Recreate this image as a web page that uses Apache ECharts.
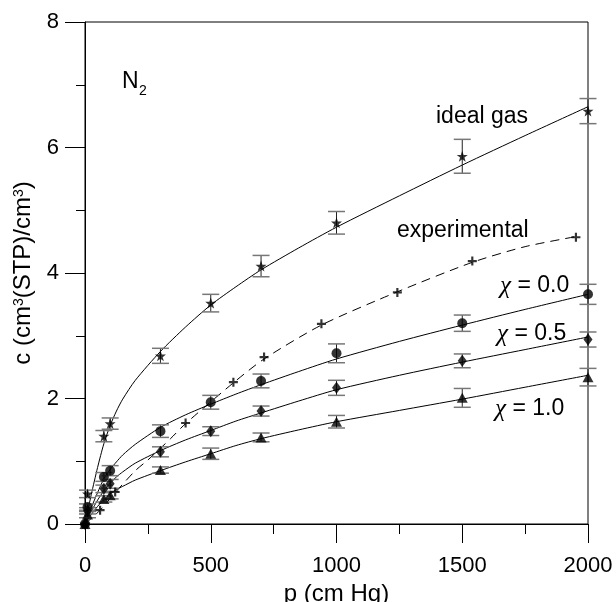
<!DOCTYPE html>
<html>
<head>
<meta charset="utf-8">
<script src="https://cdn.jsdelivr.net/npm/echarts@6/dist/echarts.min.js"></script>
<style>
html,body{margin:0;padding:0;background:#fff;}
#chart{width:616px;height:602px;}
</style>
</head>
<body>
<div id="chart"></div>
<script>
// ---- data ----
const xTicks = [0, 500, 1000, 1500, 2000];
const yTicks = [0, 2, 4, 6, 8];

// measured points (p in cm Hg), with error half-widths
const pMeas = [0, 10, 75, 100, 300, 500, 700, 1000, 1500, 2000];
const cIdeal = [0, 0.48, 1.40, 1.60, 2.68, 3.52, 4.11, 4.80, 5.86, 6.58];
const eIdeal = [0, 0.06, 0.09, 0.09, 0.12, 0.14, 0.17, 0.18, 0.27, 0.20];
const cChi00 = [0, 0.27, 0.75, 0.85, 1.48, 1.94, 2.28, 2.72, 3.20, 3.66];
const eChi00 = [0, 0.05, 0.07, 0.08, 0.10, 0.11, 0.11, 0.15, 0.13, 0.16];
const cChi05 = [0, 0.21, 0.56, 0.64, 1.15, 1.48, 1.80, 2.17, 2.60, 2.94];
const eChi05 = [0, 0.05, 0.06, 0.07, 0.08, 0.07, 0.08, 0.12, 0.11, 0.12];
const cChi10 = [0, 0.15, 0.40, 0.46, 0.86, 1.12, 1.38, 1.63, 2.01, 2.34];
const eChi10 = [0, 0.05, 0.05, 0.06, 0.05, 0.09, 0.07, 0.10, 0.15, 0.14];

// experimental points
const pExp = [0, 60, 120, 400, 590, 712, 940, 1242, 1540, 1952];
const cExp = [0, 0.22, 0.51, 1.61, 2.26, 2.66, 3.19, 3.69, 4.19, 4.57];

// fitted curves
const pFit = [0, 25, 50, 75, 100, 125, 150, 200, 300, 400, 500, 600, 700, 850, 1000, 1250, 1500, 1750, 2000];
const fIdeal = [0, 0.47, 0.90, 1.28, 1.57, 1.80, 1.99, 2.29, 2.75, 3.14, 3.49, 3.78, 4.05, 4.40, 4.73, 5.23, 5.72, 6.19, 6.65];
const fChi00 = [0, 0.26, 0.50, 0.72, 0.87, 0.99, 1.10, 1.27, 1.54, 1.74, 1.91, 2.07, 2.22, 2.43, 2.63, 2.91, 3.17, 3.42, 3.66];
const fChi05 = [0, 0.20, 0.38, 0.53, 0.65, 0.75, 0.83, 0.97, 1.17, 1.34, 1.49, 1.64, 1.77, 1.96, 2.14, 2.37, 2.58, 2.78, 2.98];
const fChi10 = [0, 0.15, 0.28, 0.39, 0.48, 0.55, 0.60, 0.70, 0.85, 0.99, 1.12, 1.25, 1.36, 1.50, 1.63, 1.81, 1.99, 2.18, 2.37];
const pExpLine = [0, 60, 120, 200, 250, 340, 400, 590, 712, 940, 1242, 1540, 1750, 1952];
const fExp = [0, 0.22, 0.50, 0.85, 1.02, 1.36, 1.60, 2.25, 2.63, 3.17, 3.70, 4.17, 4.42, 4.58];

// ---- chart ----
const FONT = '"Liberation Sans", Arial, sans-serif';
const STAR = 'path://M0,-10L2.35,-3.24L9.51,-3.09L3.8,1.24L5.88,8.09L0,4L-5.88,8.09L-3.8,1.24L-9.51,-3.09L-2.35,-3.24Z';
const PLUS = 'path://M-1.2,-5H1.2V-1.2H5V1.2H1.2V5H-1.2V1.2H-5V-1.2H-1.2Z';

function pairs(xs, ys) { return xs.map((x, i) => [x, ys[i]]); }

function curve(xs, ys, dashed) {
  return {
    type: 'line', data: pairs(xs, ys), smooth: 0.25,
    showSymbol: false, symbol: 'none', silent: true, z: 1,
    lineStyle: { color: '#000', width: 1, type: dashed ? [9, 6] : 'solid' }
  };
}
function points(xs, ys, symbol, size) {
  return {
    type: 'scatter', data: pairs(xs, ys), symbol: symbol, symbolSize: size,
    itemStyle: { color: '#000' }, silent: true, z: 4
  };
}
function errBars(xs, ys, es) {
  const d = xs.map((x, i) => [x, ys[i], es[i]]).filter(r => r[2] > 0);
  return {
    type: 'custom', data: d, silent: true, z: 3, clip: false,
    encode: { x: 0, y: 1 },
    renderItem: function (params, api) {
      const x = api.value(0), y = api.value(1), e = api.value(2);
      const t = api.coord([x, y + e]), b = api.coord([x, y - e]);
      const hw = 8.5;
      return {
        type: 'group', children: [
          { type: 'line', shape: { x1: t[0], y1: t[1], x2: b[0], y2: b[1] }, style: { stroke: '#222', lineWidth: 1 } },
          { type: 'line', shape: { x1: t[0] - hw, y1: t[1], x2: t[0] + hw, y2: t[1] }, style: { stroke: '#777', lineWidth: 1.5 } },
          { type: 'line', shape: { x1: b[0] - hw, y1: b[1], x2: b[0] + hw, y2: b[1] }, style: { stroke: '#777', lineWidth: 1.5 } }
        ]
      };
    }
  };
}
function label(text, x, y) {
  return { type: 'text', x: x, y: y, silent: true,
    style: { text: text, fill: '#000', fontSize: 23, fontFamily: FONT, verticalAlign: 'middle', align: 'left',
      rich: { c: { fontSize: 25, fontFamily: '"Liberation Serif", serif', fontStyle: 'italic', fill: '#000' } } } };
}

const chart = echarts.init(document.getElementById('chart'), null, { renderer: 'canvas' });
chart.setOption({
  animation: false,
  backgroundColor: '#fff',
  grid: { left: 85, right: 28, top: 22, bottom: 78, show: true, borderColor: '#000', borderWidth: 1,
          containLabel: false, outerBoundsMode: 'none' },
  xAxis: {
    type: 'value', min: xTicks[0], max: xTicks[xTicks.length - 1], interval: xTicks[1] - xTicks[0],
    name: 'p (cm Hg)', nameLocation: 'middle', nameGap: 55,
    nameTextStyle: { fontSize: 24, fontFamily: FONT, color: '#000' },
    axisLine: { show: true, onZero: false, lineStyle: { color: '#000', width: 1 } },
    axisTick: { show: true, inside: false, length: 19, lineStyle: { color: '#000', width: 1 } },
    minorTick: { show: true, splitNumber: 2, length: 10, lineStyle: { color: '#000', width: 1 } },
    axisLabel: { fontSize: 22, fontFamily: FONT, color: '#000', margin: 31, formatter: v => String(v) },
    splitLine: { show: false }, minorSplitLine: { show: false }
  },
  yAxis: {
    type: 'value', min: yTicks[0], max: yTicks[yTicks.length - 1], interval: yTicks[1] - yTicks[0],
    name: 'c (cm{s|3}(STP)/cm{s|3})', nameLocation: 'middle', nameGap: 36, nameRotate: 90,
    nameTextStyle: { fontSize: 24, fontFamily: FONT, color: '#000',
      rich: { s: { fontSize: 14, fontFamily: FONT, color: '#000', verticalAlign: 'top' } } },
    axisLine: { show: true, onZero: false, lineStyle: { color: '#000', width: 1 } },
    axisTick: { show: true, inside: false, length: 20, lineStyle: { color: '#000', width: 1 } },
    minorTick: { show: true, splitNumber: 2, length: 9, lineStyle: { color: '#000', width: 1 } },
    axisLabel: { fontSize: 22, fontFamily: FONT, color: '#000', margin: 26, formatter: v => String(v) },
    splitLine: { show: false }, minorSplitLine: { show: false }
  },
  graphic: [
    { type: 'text', x: 122, y: 82, silent: true,
      style: { text: 'N', fill: '#000', fontSize: 23, fontFamily: FONT, verticalAlign: 'middle' } },
    { type: 'text', x: 139, y: 91, silent: true,
      style: { text: '2', fill: '#000', fontSize: 14, fontFamily: FONT, verticalAlign: 'middle' } },
    label('ideal gas', 436, 117),
    label('experimental', 397, 231),
    label('{c|χ} = 0.0', 500, 286),
    label('{c|χ} = 0.5', 497, 334),
    label('{c|χ} = 1.0', 495, 409)
  ],
  series: [
    curve(pFit, fIdeal, false),
    curve(pFit, fChi00, false),
    curve(pFit, fChi05, false),
    curve(pFit, fChi10, false),
    curve(pExpLine, fExp, true),
    errBars(pMeas, cIdeal, eIdeal),
    errBars(pMeas, cChi00, eChi00),
    errBars(pMeas, cChi05, eChi05),
    errBars(pMeas, cChi10, eChi10),
    points(pMeas, cIdeal, STAR, 11),
    points(pMeas, cChi00, 'circle', 10),
    points(pMeas, cChi05, 'diamond', [9, 12]),
    points(pMeas, cChi10, 'triangle', [11, 10]),
    points(pExp, cExp, PLUS, 9)
  ]
});
</script>
</body>
</html>
